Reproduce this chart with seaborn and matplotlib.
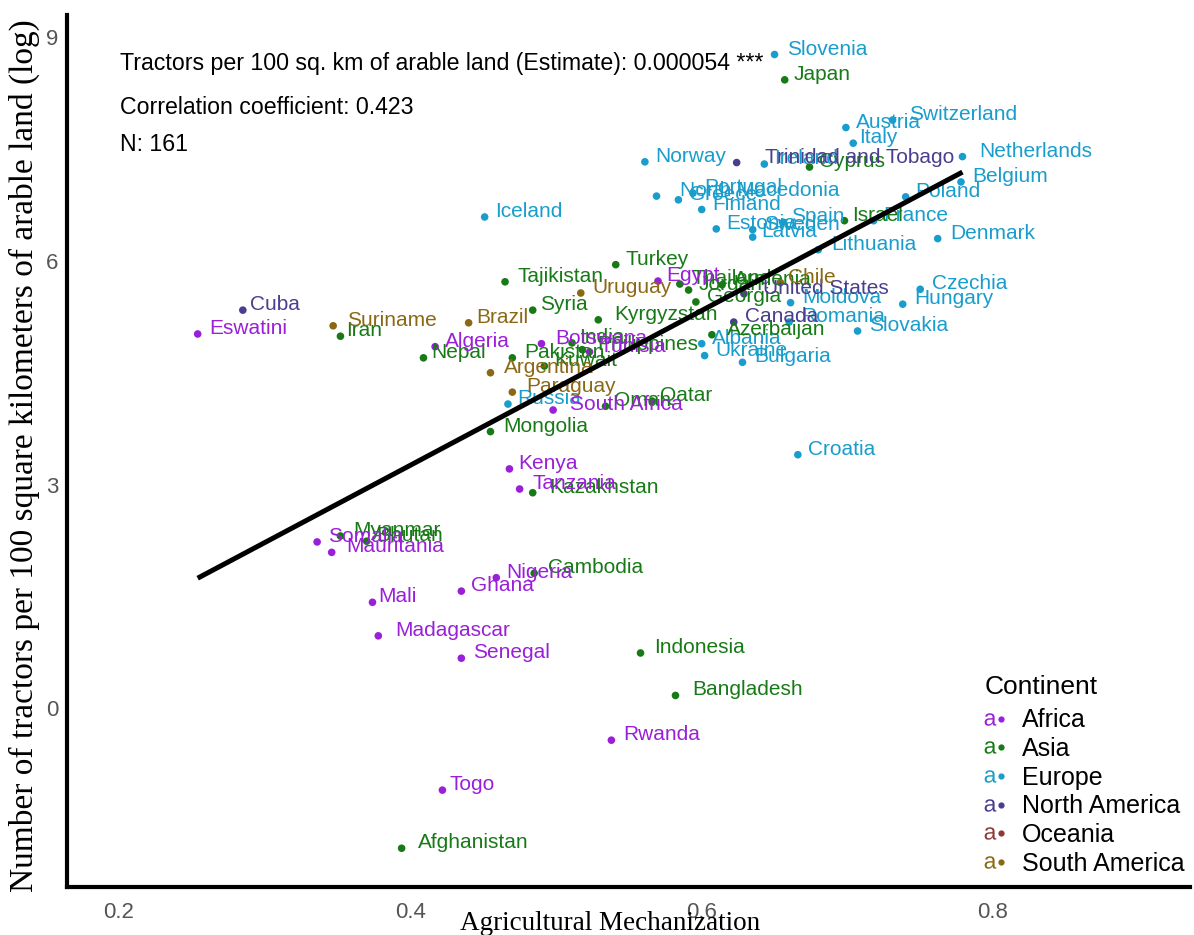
import matplotlib
matplotlib.use('Agg')
import matplotlib.pyplot as plt
import seaborn as sns
import pandas as pd
from matplotlib.lines import Line2D
from matplotlib.legend_handler import HandlerTuple

countries = [
    # Europe
    "Slovenia", "Austria", "Switzerland", "Italy", "Norway", "Ireland", "Netherlands",
    "Belgium", "Poland", "North Macedonia", "Greece", "Portugal", "Finland", "Iceland",
    "Estonia", "Sweden", "Latvia", "Spain", "France", "Lithuania", "Denmark", "Czechia",
    "Hungary", "Slovakia", "Moldova", "Romania", "Albania", "Ukraine", "Bulgaria",
    "Croatia", "Russia",
    # Asia
    "Japan", "Cyprus", "Israel", "Turkey", "Tajikistan", "Thailand", "Jordan", "Armenia",
    "Georgia", "Syria", "Kyrgyzstan", "Iran", "Nepal", "Pakistan", "Kuwait", "India",
    "Philippines", "Azerbaijan", "Oman", "Qatar", "Mongolia", "Kazakhstan", "Myanmar",
    "Bhutan", "Cambodia", "Indonesia", "Bangladesh", "Afghanistan",
    # Africa
    "Eswatini", "Egypt", "Algeria", "Botswana", "Tunisia", "South Africa", "Kenya",
    "Tanzania", "Somalia", "Mauritania", "Nigeria", "Ghana", "Mali", "Madagascar",
    "Senegal", "Rwanda", "Togo",
    # North America
    "Cuba", "Trinidad and Tobago", "United States", "Canada",
    # South America
    "Suriname", "Brazil", "Uruguay", "Argentina", "Paraguay", "Chile",
]

continent = (["Europe"] * 31 + ["Asia"] * 28 + ["Africa"] * 17
             + ["North America"] * 4 + ["South America"] * 6)

mechanization = [
    0.650, 0.699, 0.731, 0.704, 0.561, 0.643, 0.779,
    0.778, 0.740, 0.569, 0.584, 0.594, 0.600, 0.451,
    0.610, 0.635, 0.635, 0.656, 0.718, 0.680, 0.762, 0.750,
    0.738, 0.707, 0.661, 0.660, 0.600, 0.602, 0.628,
    0.666, 0.467,
    0.657, 0.674, 0.698, 0.541, 0.465, 0.585, 0.591, 0.614,
    0.596, 0.484, 0.529, 0.352, 0.409, 0.470, 0.492, 0.511,
    0.518, 0.607, 0.534, 0.566, 0.455, 0.484, 0.352,
    0.370, 0.485, 0.558, 0.582, 0.394,
    0.254, 0.570, 0.417, 0.490, 0.523, 0.498, 0.468,
    0.475, 0.336, 0.346, 0.459, 0.435, 0.374, 0.378,
    0.435, 0.538, 0.422,
    0.285, 0.624, 0.629, 0.622,
    0.347, 0.440, 0.517, 0.455, 0.470, 0.654,
]

tractors_log = [
    8.77, 7.79, 7.89, 7.58, 7.33, 7.30, 7.40,
    7.06, 6.86, 6.87, 6.82, 6.91, 6.69, 6.59,
    6.43, 6.42, 6.32, 6.52, 6.54, 6.15, 6.30, 5.62,
    5.42, 5.06, 5.44, 5.18, 4.89, 4.73, 4.64,
    3.40, 4.08,
    8.43, 7.26, 6.54, 5.95, 5.72, 5.69, 5.61, 5.68,
    5.45, 5.34, 5.21, 4.99, 4.70, 4.70, 4.59, 4.90,
    4.81, 5.01, 4.05, 4.12, 3.71, 2.89, 2.31,
    2.24, 1.81, 0.74, 0.17, -1.88,
    5.02, 5.73, 4.85, 4.89, 4.78, 4.00, 3.21,
    2.94, 2.23, 2.09, 1.75, 1.57, 1.42, 0.97,
    0.67, -0.43, -1.10,
    5.34, 7.32, 5.56, 5.18,
    5.13, 5.17, 5.57, 4.50, 4.24, 5.71,
]

continent_order = ["Africa", "Asia", "Europe", "North America", "Oceania", "South America"]
palette = {
    "Africa": "#9A1FD8",
    "Asia": "#177A17",
    "Europe": "#189DCC",
    "North America": "#4A3F8E",
    "Oceania": "#8B3A3A",
    "South America": "#8B6914",
}

stats_lines = [
    "Tractors per 100 sq. km of arable land (Estimate): 0.000054 ***",
    "Correlation coefficient: 0.423",
    "N: 161",
]

df = pd.DataFrame({
    "Country": countries,
    "Continent": continent,
    "Mechanization": mechanization,
    "Tractors": tractors_log,
})

sns.set_theme(style="white")
plt.rcParams['font.family'] = ['Liberation Sans', 'DejaVu Sans']

W, H = 1194, 935
fig = plt.figure(figsize=(W / 100, H / 100), dpi=100)
ax = fig.add_axes([67 / W, 1 - 887 / H, (1190 - 67) / W, (887 - 15) / H])

sns.scatterplot(data=df, x="Mechanization", y="Tractors", hue="Continent",
                hue_order=continent_order, palette=palette, s=30, linewidth=0,
                legend=False, ax=ax, zorder=2)

texts = []
for name, c, xv, yv in zip(countries, continent, mechanization, tractors_log):
    t = ax.annotate(name, (xv, yv), xytext=(0, 0), textcoords='offset pixels',
                    ha='left', va='baseline', fontsize=15, color=palette[c], zorder=3)
    texts.append(t)

sns.regplot(data=df, x="Mechanization", y="Tractors", scatter=False, ci=None,
            color="black", line_kws=dict(lw=3.6, zorder=4, solid_capstyle='butt'), ax=ax)

ax.set_xlim(0.1643, 0.9352)
ax.set_ylim(-2.40, 9.30)
ax.set_xticks([0.2, 0.4, 0.6, 0.8])
ax.set_xticklabels(["0.2", "0.4", "0.6", "0.8"])
ax.set_yticks([0, 3, 6, 9])
ax.set_yticklabels(["0", "3", "6", "9"])
ax.tick_params(axis='both', length=0, labelsize=16, labelcolor='#555555')
ax.tick_params(axis='x', pad=11)
ax.tick_params(axis='y', pad=6)

sns.despine(ax=ax)
for side in ['left', 'bottom']:
    ax.spines[side].set_linewidth(3)
    ax.spines[side].set_color('black')

ax.set_xlabel("Agricultural Mechanization", fontfamily='Liberation Serif',
              fontsize=19.5, color='black')
ax.xaxis.set_label_coords(0.484, -0.028)
ax.set_ylabel("Number of tractors per 100 square kilometers of arable land (log)",
              fontfamily='Liberation Serif', fontsize=24, color='black')
ax.yaxis.set_label_coords(-0.024, 0.495)

ys = [0.937, 0.886, 0.844]
for s, yy in zip(stats_lines, ys):
    ax.text(0.0472, yy, s, transform=ax.transAxes, fontsize=16.7, color='black',
            ha='left', va='baseline')

handles = []
for c in continent_order:
    h_a = Line2D([], [], linestyle='none', marker=r'$\mathregular{a}$',
                 markersize=9, color=palette[c], markeredgewidth=0)
    h_dot = Line2D([], [], linestyle='none', marker='o', markersize=4.5,
                   color=palette[c], markeredgewidth=0)
    handles.append((h_a, h_dot))

leg = ax.legend(handles, continent_order, title="Continent", loc='upper left',
                bbox_to_anchor=(985 / W, 1 - 675 / H), bbox_transform=fig.transFigure,
                frameon=False, fontsize=18, title_fontsize=19, handlelength=0.84,
                handletextpad=0.64, labelspacing=0.186, borderpad=0, borderaxespad=0,
                labelcolor='black',
                handler_map={tuple: HandlerTuple(ndivide=None, pad=0)})
leg.get_title().set_color('black')
leg._legend_box.align = 'left'
leg._legend_box.sep = 6.7

fig.canvas.draw()
for t in texts:
    w = t.get_window_extent().width
    t.xyann = (0.15 * w, 0)

fig.savefig("out.png", dpi=100)
